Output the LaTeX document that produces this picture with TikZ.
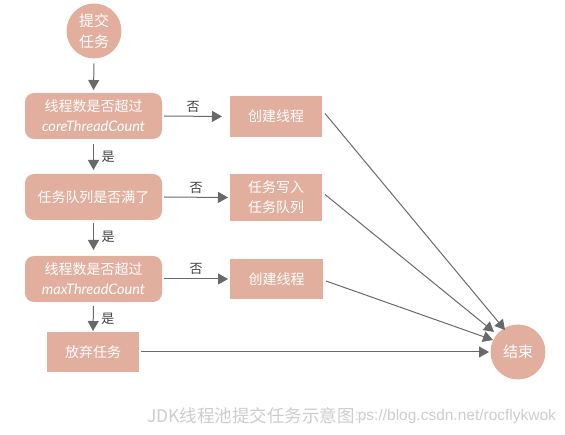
\documentclass[tikz,border=0pt]{standalone}
\usepackage{fontspec}
\setmainfont{Noto Sans CJK SC}
\newfontfamily\capfont{Noto Sans CJK SC}
\newfontfamily\wmfont{Liberation Sans}
\newfontfamily\latfont{Lato}
\usetikzlibrary{arrows.meta}
\definecolor{salmon}{RGB}{226,175,158}
\definecolor{arrowgray}{RGB}{105,105,105}
\definecolor{capgray}{RGB}{205,205,205}
\begin{document}
\begin{tikzpicture}[x=1pt,y=-1pt,
  every node/.style={inner sep=0pt,outer sep=0pt},
  roundbox/.style={fill=salmon,rounded corners=9pt,minimum width=137pt,minimum height=46pt,text=white,align=center,font=\fontsize{14}{20}\selectfont},
  rectbox/.style={fill=salmon,minimum width=92pt,text=white,align=center,font=\fontsize{14}{20}\selectfont},
  circ/.style={fill=salmon,circle,minimum size=55pt,text=white,align=center,font=\fontsize{15}{21}\selectfont},
  conn/.style={draw=arrowgray,line width=1pt,-{Triangle[length=10pt,width=11pt]}},
  lbl/.style={font=\fontsize{13}{13}\selectfont,text=black!75}
]
\useasboundingbox (0,0) rectangle (565,435);
\node[circ] (start) at (94,31) {提交\\任务};
\node[roundbox] (q1) at (93.5,116) {线程数是否超过\\{\latfont\itshape\fontsize{14.5}{20}\selectfont coreThreadCount}};
\node[roundbox] (q2) at (93.5,197) {任务队列是否满了};
\node[roundbox] (q3) at (93.5,279) {线程数是否超过\\{\latfont\itshape\fontsize{14.5}{20}\selectfont maxThreadCount}};
\node[rectbox,minimum width=92pt,minimum height=41pt] (a1) at (276,116.5) {创建线程};
\node[rectbox,minimum width=92pt,minimum height=47pt] (a2) at (276,197.5) {任务写入\\任务队列};
\node[rectbox,minimum width=93pt,minimum height=40pt] (a3) at (276.5,279) {创建线程};
\node[rectbox,minimum width=92pt,minimum height=40pt] (rej) at (93,352) {放弃任务};
\node[circ] (end) at (518,352) {结束};

\draw[conn] ([yshift=-5pt]start.south) -- ([yshift=3pt]q1.north);
\draw[conn] ([yshift=-5pt]q1.south) -- node[right=8pt,lbl]{是} ([yshift=4pt]q2.north);
\draw[conn] ([yshift=-3pt]q2.south) -- node[right=8pt,lbl]{是} ([yshift=6pt]q3.north);
\draw[conn] ([yshift=-4pt]q3.south) -- node[right=8pt,lbl]{是} ([yshift=1pt]rej.north);

\draw[conn] ([xshift=2pt]q1.east) -- node[above=4pt,lbl]{否} ([xshift=-8pt]a1.west);
\draw[conn] ([xshift=2pt]q2.east) -- node[above=4pt,lbl]{否} ([xshift=-2pt]a2.west);
\draw[conn] ([xshift=2pt]q3.east) -- node[above=4pt,lbl]{否} ([xshift=-2pt]a3.west);

\coordinate (e1) at (505,330);
\coordinate (e2) at (494,332);
\coordinate (e3) at (493,340);
\coordinate (e4) at (489,352);
\draw[conn] ([xshift=3pt,yshift=3pt]a1.east) -- (e1);
\draw[conn] ([xshift=3pt,yshift=3pt]a2.east) -- (e2);
\draw[conn] ([xshift=3pt,yshift=-2pt]a3.east) -- (e3);
\draw[conn] ([xshift=2pt]rej.east) -- (e4);

\node[anchor=east,text=capgray,font=\wmfont\fontsize{15.5}{15.5}\selectfont] (wm) at (556,416) {https://blog.csdn.net/rocflykwok};
\node[anchor=west,fill=white,inner xsep=1pt,text=capgray,font=\capfont\fontsize{17.5}{17.5}\selectfont] (cap) at (146,416) {JDK线程池提交任务示意图};
\end{tikzpicture}
\end{document}
